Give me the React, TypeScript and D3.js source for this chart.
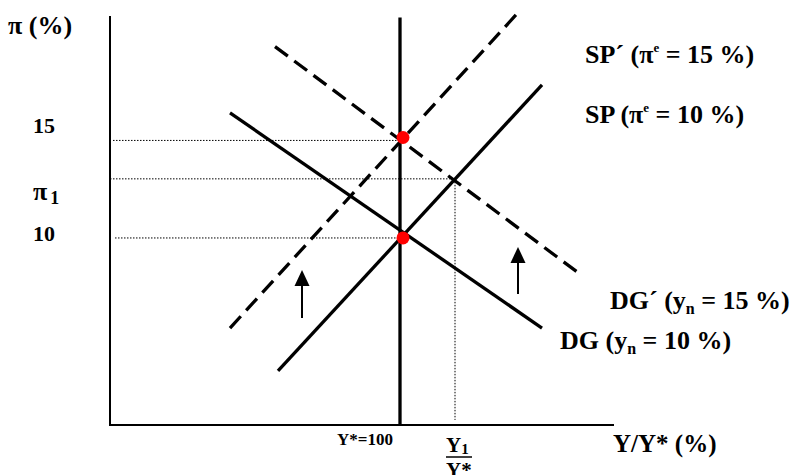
import React from 'react';
import * as d3 from 'd3';

// Axis extents (data units: x = Y/Y* in %, y = inflation π in %)
const xDomain: [number, number] = [71, 121.4];
const yDomain: [number, number] = [0.41, 21.38];

// Curve endpoints
const spCurve: [number, number][] = [[87.8, 3.18], [114.2, 17.85]];
const dgCurve: [number, number][] = [[83.0, 16.41], [114.2, 5.38]];
const spPrimeCurve: [number, number][] = [[83.0, 5.38], [111.8, 21.55]];
const dgPrimeCurve: [number, number][] = [[87.5, 19.81], [118.0, 8.15]];

const yStar = 100;
const yStarTop = 21.3;
const y1 = 105.5;
const piLevels = [15, 13.03, 10];
const guideStarts = [71.3, 71, 71.5];
const guideEnds = [99.7, 105.5, 100];
const y1GuideBottom = 0.67;

const equilibria: [number, number][] = [[100.3, 15.15], [100.3, 10.0]];

// arrows: x, from, to
const arrowX = [90.2, 111.8];
const arrowFrom = [5.9, 7.13];
const arrowTo = [8.36, 9.54];

const FONT = "'Liberation Serif', 'Times New Roman', serif";

export default function App() {
  const x = d3.scaleLinear().domain(xDomain).range([110, 614]);
  const y = d3.scaleLinear().domain(yDomain).range([425, 16]);
  const line = d3.line<[number, number]>().x(d => x(d[0])).y(d => y(d[1]));

  const curveStyle = { fill: 'none', stroke: '#000', strokeWidth: 3.3 };
  const dash = '16,8';
  const dotted = { stroke: '#000', strokeWidth: 1, strokeDasharray: '1.5,1.5' };

  return (
    <svg width={794} height={475} style={{ position: 'absolute', left: 0, top: 0, background: '#fff' }}
      fontFamily={FONT} fontWeight="bold">
      <rect width={794} height={475} fill="#fff" />
      {/* guides */}
      {piLevels.map((p, i) => (
        <line key={i} x1={x(guideStarts[i])} x2={x(guideEnds[i])} y1={y(p)} y2={y(p)} {...dotted} />
      ))}
      <line x1={x(y1)} x2={x(y1)} y1={y(piLevels[1])} y2={y(y1GuideBottom)} {...dotted} />

      {/* axes */}
      <line x1={x(xDomain[0])} x2={x(xDomain[0])} y1={y(yDomain[1])} y2={y(yDomain[0])} stroke="#000" strokeWidth={2} />
      <line x1={x(xDomain[0]) - 1} x2={x(xDomain[1])} y1={y(yDomain[0])} y2={y(yDomain[0])} stroke="#000" strokeWidth={2} />

      {/* long-run vertical */}
      <line x1={x(yStar)} x2={x(yStar)} y1={y(yStarTop)} y2={y(yDomain[0])} stroke="#000" strokeWidth={3.3} />

      {/* curves */}
      <path d={line(spCurve)!} {...curveStyle} />
      <path d={line(dgCurve)!} {...curveStyle} />
      <path d={line(spPrimeCurve)!} {...curveStyle} strokeDasharray={dash} />
      <path d={line(dgPrimeCurve)!} {...curveStyle} strokeDasharray={dash} />

      {/* equilibria */}
      {equilibria.map((d, i) => (
        <circle key={i} cx={x(d[0])} cy={y(d[1])} r={6.5} fill="#ff0000" />
      ))}

      {/* arrows */}
      {arrowX.map((ax, i) => {
        const px = x(ax);
        const yb = y(arrowFrom[i]);
        const yt = y(arrowTo[i]);
        return (
          <g key={i}>
            <line x1={px} x2={px} y1={yb} y2={yt + 12} stroke="#000" strokeWidth={2} />
            <path d={`M${px},${yt} L${px - 7.5},${yt + 16} L${px + 7.5},${yt + 16} Z`} fill="#000" />
          </g>
        );
      })}

      {/* y labels */}
      <text x={8} y={34} fontSize={26}>π (%)</text>
      <text x={33} y={133} fontSize={22}>15</text>
      <text x={33} y={200} fontSize={26}>π<tspan fontSize={18} dx={3} dy={4}>1</tspan></text>
      <text x={33} y={241} fontSize={22}>10</text>

      {/* curve labels */}
      <text x={585} y={63} fontSize={26}>SP´ (π<tspan fontSize={13} dy={-11}>e</tspan><tspan dy={11}> = 15 %)</tspan></text>
      <text x={585} y={123} fontSize={26}>SP (π<tspan fontSize={13} dy={-11}>e</tspan><tspan dy={11}> = 10 %)</tspan></text>
      <text x={610} y={309} fontSize={26}>DG´ (y<tspan fontSize={16} dy={5}>n</tspan><tspan dy={-5}> = 15 %)</tspan></text>
      <text x={560} y={349} fontSize={26}>DG (y<tspan fontSize={16} dy={5}>n</tspan><tspan dy={-5}> = 10 %)</tspan></text>

      {/* x labels */}
      <text x={393} y={445} fontSize={17} textAnchor="end">Y*=100</text>
      <text x={446} y={452} fontSize={21}>Y<tspan fontSize={15} dy={2}>1</tspan></text>
      <line x1={446} x2={472} y1={457} y2={457} stroke="#000" strokeWidth={1.5} />
      <text x={446} y={477} fontSize={21}>Y*</text>
      <text x={613} y={452} fontSize={25}>Y/Y* (%)</text>
    </svg>
  );
}
